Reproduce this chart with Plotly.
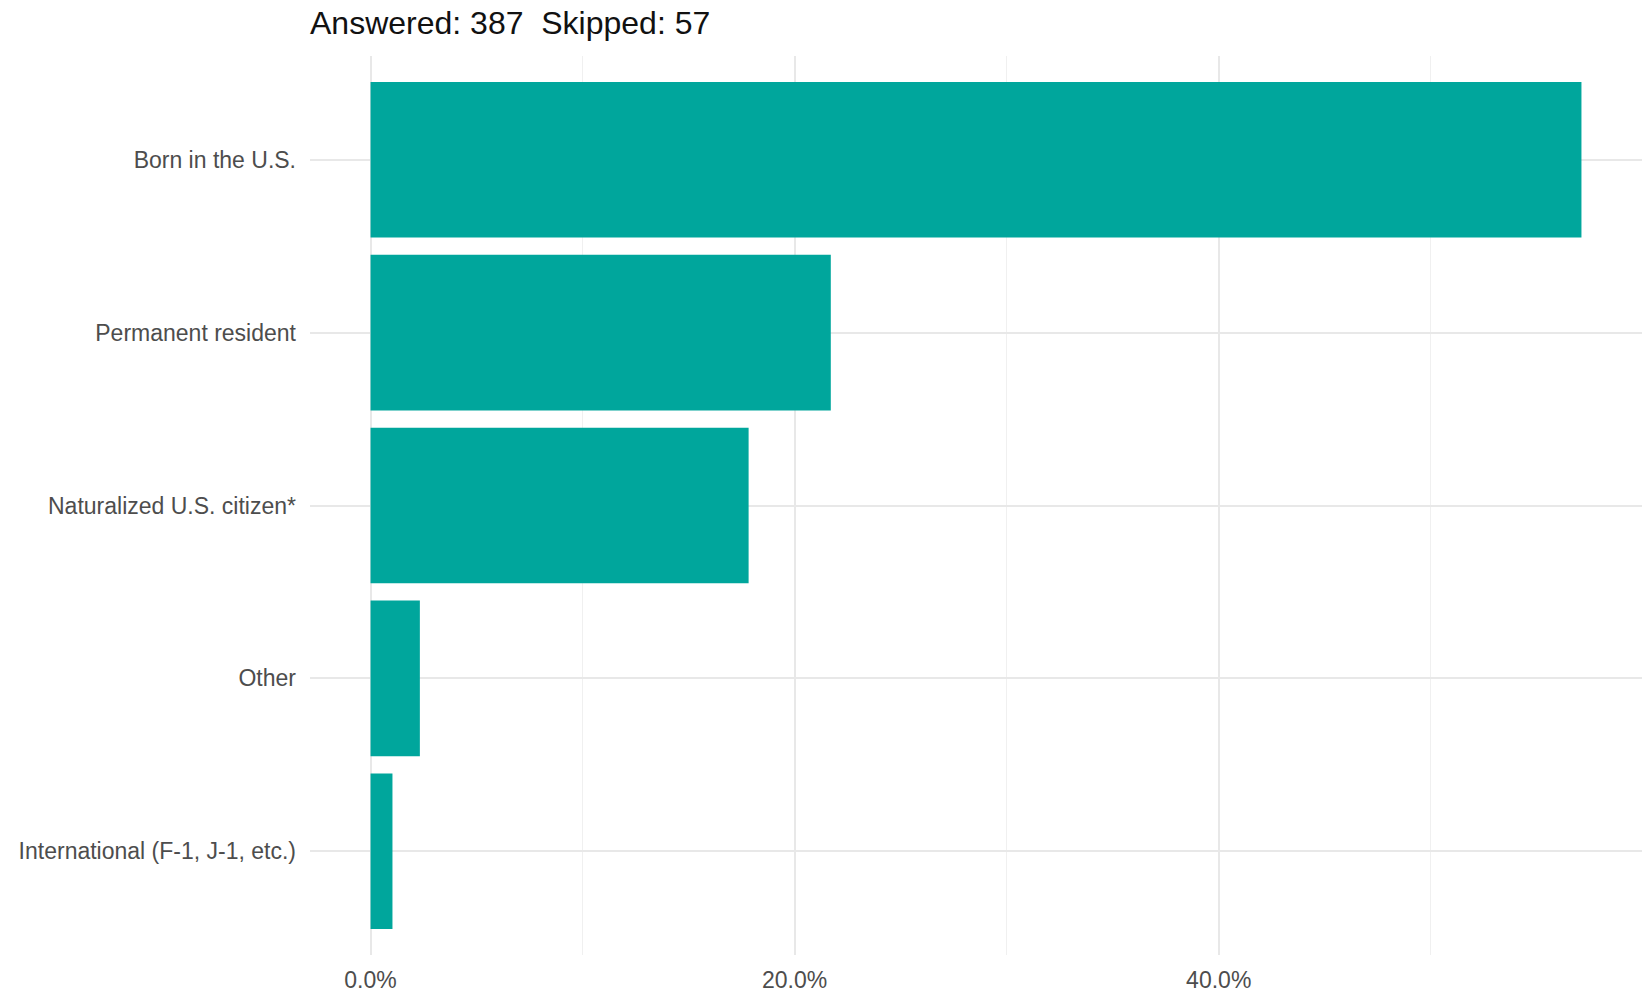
import plotly.graph_objects as go

categories = ["Born in the U.S.", "Permanent resident", "Naturalized U.S. citizen*", "Other", "International (F-1, J-1, etc.)"]
counts = [221, 84, 69, 9, 4]
answered = 387
skipped = 57
x_ticks = [0, 20, 40]
x_tick_labels = ["0.0%", "20.0%", "40.0%"]

pct = [c / answered * 100 for c in counts]
xmax = max(pct)
pad = xmax * 0.05

fig = go.Figure(go.Bar(
    x=pct, y=categories, orientation="h", width=0.9,
    marker=dict(color="#00A69C", line=dict(width=0)),
    hoverinfo="x+y",
))

fig.update_layout(
    width=1642, height=995,
    margin=dict(l=310, r=0, t=56, b=40),
    paper_bgcolor="white", plot_bgcolor="white",
    font=dict(family="Liberation Sans, Arial, sans-serif", color="#4d4d4d", size=23),
    title=dict(text=f"Answered: {answered}  Skipped: {skipped}", x=310/1642, xanchor="left",
               y=1 - 23/995, yanchor="middle", font=dict(size=32, color="#111111")),
    showlegend=False,
    bargap=0.1,
)
fig.update_xaxes(
    range=[-pad, xmax + pad], tickvals=x_ticks, ticktext=x_tick_labels,
    showgrid=True, gridcolor="#e8e8e8", gridwidth=1.6, zeroline=False, showline=False,
    ticks="", ticklabelstandoff=9, automargin=False,
    minor=dict(dtick=10, tick0=0, showgrid=True, gridcolor="#f0f0f0", gridwidth=1.1),
)
fig.update_yaxes(
    categoryorder="array", categoryarray=categories[::-1], range=[-0.6, 4.6],
    showgrid=True, gridcolor="#e8e8e8", gridwidth=1.6, zeroline=False, showline=False,
    ticks="", ticklabelstandoff=13, automargin=False,
)

fig.write_html("out.html", config={"displayModeBar": False},
               post_script="document.body.style.margin='0';document.body.style.overflow='hidden';")
